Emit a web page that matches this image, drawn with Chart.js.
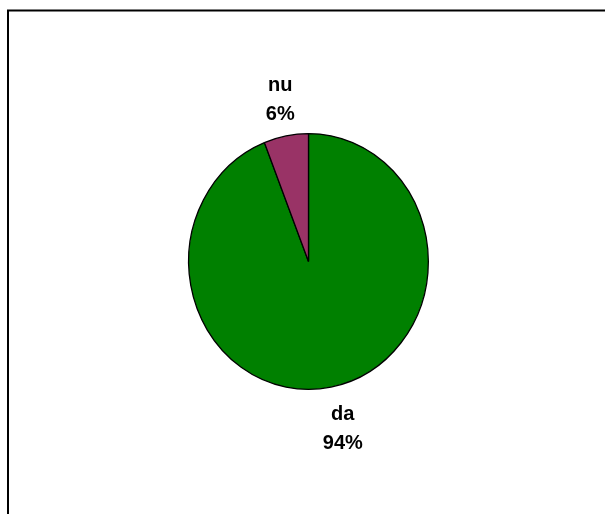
<!DOCTYPE html>
<html>
<head>
<meta charset="utf-8">
<script src="https://cdn.jsdelivr.net/npm/chart.js@4.4.1/dist/chart.umd.min.js"></script>
<style>
  html, body { margin: 0; padding: 0; background: #fff; overflow: hidden; }
  #wrap { position: relative; width: 605px; height: 514px; }
</style>
</head>
<body>
<div id="wrap"><canvas id="pie" width="605" height="514"></canvas></div>
<script>
// Answers and their shares
const categories = ['da', 'nu'];
const shares = [94, 6];
const sliceColors = ['#008000', '#993366'];

// Slight vertical stretch of the pie (it is drawn as an upright ellipse)
const PIE_STRETCH_Y = 1.067;

const framePlugin = {
  id: 'frame',
  beforeDraw(chart) {
    const ctx = chart.ctx;
    ctx.save();
    ctx.fillStyle = '#fff';
    ctx.fillRect(0, 0, chart.width, chart.height);
    ctx.strokeStyle = '#000';
    ctx.lineWidth = 2;
    ctx.strokeRect(8, 10.5, 800, 800);
    ctx.restore();
  }
};

function pieCenter(chart) {
  const arc = chart.getDatasetMeta(0).data[0];
  return { x: arc.x, y: arc.y, r: arc.outerRadius };
}

const stretchPlugin = {
  id: 'stretch',
  beforeDatasetsDraw(chart) {
    const c = pieCenter(chart);
    const ctx = chart.ctx;
    ctx.save();
    ctx.translate(c.x, c.y);
    ctx.scale(1, PIE_STRETCH_Y);
    ctx.translate(-c.x, -c.y);
  },
  afterDatasetsDraw(chart) {
    chart.ctx.restore();
  }
};

// Category name and percentage, two lines, outside each slice
const sliceLabelPlugin = {
  id: 'sliceLabels',
  afterDraw(chart) {
    const ctx = chart.ctx;
    const meta = chart.getDatasetMeta(0);
    const values = chart.data.datasets[0].data;
    const total = values.reduce((a, b) => a + b, 0);
    ctx.save();
    ctx.font = 'bold 20px "Liberation Sans", Arial, sans-serif';
    ctx.fillStyle = '#000';
    ctx.textAlign = 'center';
    ctx.textBaseline = 'middle';
    meta.data.forEach((arc, i) => {
      const mid = (arc.startAngle + arc.endAngle) / 2 - 0.012;
      const d = arc.outerRadius * 1.31;
      const x = arc.x + Math.cos(mid) * d + 3;
      const y = arc.y + Math.sin(mid) * d * PIE_STRETCH_Y + 3;
      const pct = Math.round(values[i] / total * 100) + '%';
      ctx.fillText(chart.data.labels[i], x, y - 14.5);
      ctx.fillText(pct, x, y + 14.5);
    });
    ctx.restore();
  }
};

new Chart(document.getElementById('pie'), {
  type: 'pie',
  data: {
    labels: categories,
    datasets: [{
      data: shares,
      backgroundColor: sliceColors,
      borderColor: '#000',
      borderWidth: 1.3
    }]
  },
  options: {
    responsive: false,
    animation: false,
    events: [],
    layout: { padding: { left: 188, right: 176, top: 141, bottom: 132 } },
    plugins: {
      legend: { display: false },
      tooltip: { enabled: false }
    }
  },
  plugins: [framePlugin, stretchPlugin, sliceLabelPlugin]
});
</script>
</body>
</html>
